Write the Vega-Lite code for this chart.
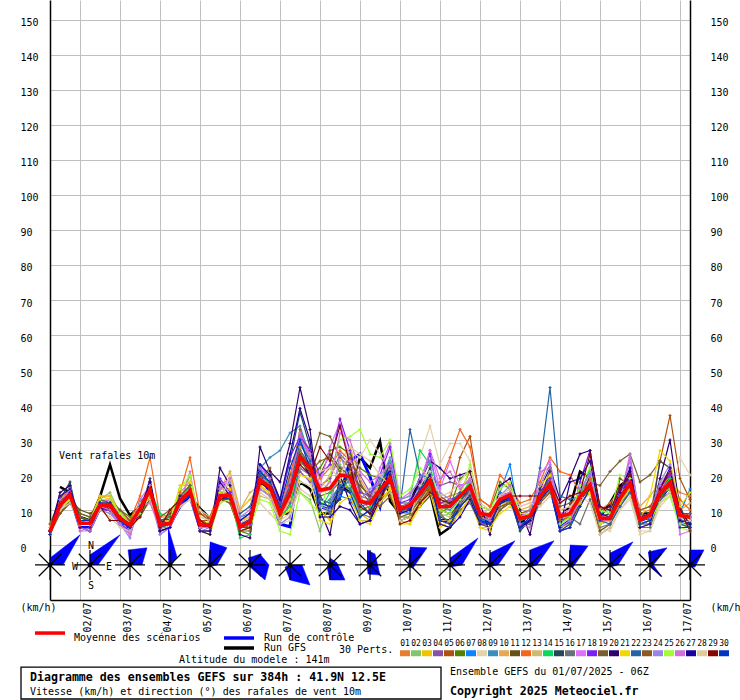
{"$schema":"https://vega.github.io/schema/vega-lite/v6.json","width":640,"height":600,"autosize":"none","padding":{"left":50,"top":0,"right":50,"bottom":100},"background":"white",
"config":{"font":"DejaVu Sans Mono","view":{"stroke":null},"axis":{"labelFontSize":10,"labelColor":"black","titleFontSize":10,"titleFontWeight":"normal","titleColor":"black"},"legend":{"labelFontSize":10,"labelColor":"black","titleFontWeight":"normal","titleFontSize":10,"titleColor":"black"}},
"title":{"text":"Diagramme des ensembles GEFS sur 384h : 41.9N 12.5E","subtitle":"Vitesse (km/h) et direction (°) des rafales de vent 10m","orient":"bottom","anchor":"start","frame":"group","dx":-20,"offset":-28,"font":"DejaVu Sans Mono","fontSize":11.6,"fontWeight":"bold","color":"black","subtitleFont":"DejaVu Sans Mono","subtitleFontSize":10,"subtitleColor":"black","subtitlePadding":4},
"data":{"values":[
{"t":0,"01":4,"02":5,"03":6,"04":4,"05":5,"06":4,"07":4,"08":5,"09":3,"10":5,"11":4,"12":4,"13":5,"14":4,"15":3,"16":4,"17":4,"18":3,"19":6,"20":4,"21":5,"22":4,"23":3,"24":4,"25":5,"26":3,"27":4,"28":5,"29":4,"30":3,"mean":3.8,"ctrl":4},
{"t":6,"01":12,"02":11,"03":13,"04":10,"05":12,"06":9,"07":11,"08":10,"09":13,"10":12,"11":9,"12":14,"13":10,"14":12,"15":13,"16":11,"17":12,"18":10,"19":13,"20":15,"21":11,"22":12,"23":9,"24":11,"25":10,"26":13,"27":14,"28":10,"29":11,"30":12,"mean":11.4,"ctrl":11},
{"t":12,"01":14,"02":13,"03":16,"04":15,"05":14,"06":12,"07":15,"08":13,"09":12,"10":16,"11":13,"12":15,"13":14,"14":13,"15":18,"16":17,"17":16,"18":15,"19":14,"20":17,"21":13,"22":14,"23":12,"24":16,"25":13,"26":15,"27":16,"28":12,"29":14,"30":15,"mean":14.3,"ctrl":14},
{"t":18,"01":6,"02":5,"03":7,"04":5,"05":6,"06":9,"07":5,"08":7,"09":6,"10":5,"11":10,"12":7,"13":6,"14":8,"15":5,"16":6,"17":4,"18":5,"19":9,"20":5,"21":7,"22":6,"23":8,"24":5,"25":6,"26":4,"27":7,"28":6,"29":5,"30":7,"mean":6.2,"ctrl":5},
{"t":24,"01":6,"02":5,"03":7,"04":4,"05":6,"06":8,"07":5,"08":7,"09":6,"10":5,"11":9,"12":6,"13":6,"14":7,"15":5,"16":6,"17":4,"18":5,"19":8,"20":4,"21":7,"22":6,"23":7,"24":4,"25":6,"26":5,"27":7,"28":6,"29":5,"30":7,"mean":6.2,"ctrl":5},
{"t":30,"01":12,"02":13,"03":14,"04":10,"05":11,"06":12,"07":11,"08":10,"09":12,"10":13,"11":11,"12":14,"13":10,"14":12,"15":13,"16":11,"17":12,"18":10,"19":13,"20":10,"21":14,"22":11,"23":12,"24":10,"25":13,"26":11,"27":12,"28":10,"29":11,"30":12,"mean":11.4,"ctrl":11},
{"t":36,"01":12,"02":15,"03":13,"04":10,"05":12,"06":13,"07":11,"08":9,"09":11,"10":13,"11":10,"12":14,"13":9,"14":12,"15":12,"16":11,"17":13,"18":10,"19":12,"20":11,"21":14,"22":11,"23":10,"24":9,"25":13,"26":10,"27":12,"28":8,"29":7,"30":11,"mean":11.4,"ctrl":10},
{"t":42,"01":8,"02":9,"03":7,"04":6,"05":8,"06":10,"07":7,"08":6,"09":7,"10":9,"11":8,"12":8,"13":6,"14":8,"15":9,"16":7,"17":8,"18":6,"19":10,"20":7,"21":9,"22":8,"23":7,"24":6,"25":9,"26":6,"27":8,"28":5,"29":7,"30":7,"mean":7.6,"ctrl":6},
{"t":48,"01":5,"02":7,"03":5,"04":4,"05":6,"06":8,"07":5,"08":4,"09":5,"10":7,"11":6,"12":7,"13":4,"14":5,"15":6,"16":5,"17":3,"18":4,"19":7,"20":5,"21":6,"22":6,"23":5,"24":2,"25":6,"26":3,"27":6,"28":4,"29":5,"30":5,"mean":5.7,"ctrl":5},
{"t":54,"01":11,"02":8,"03":10,"04":12,"05":11,"06":9,"07":10,"08":9,"09":10,"10":12,"11":8,"12":14,"13":11,"14":10,"15":9,"16":11,"17":13,"18":12,"19":10,"20":9,"21":11,"22":10,"23":12,"24":13,"25":9,"26":11,"27":10,"28":12,"29":8,"30":11,"mean":10.4,"ctrl":10},
{"t":60,"01":18,"02":15,"03":16,"04":14,"05":17,"06":13,"07":16,"08":12,"09":17,"10":15,"11":13,"12":25,"13":14,"14":16,"15":19,"16":15,"17":17,"18":16,"19":15,"20":18,"21":14,"22":16,"23":13,"24":14,"25":15,"26":12,"27":18,"28":13,"29":16,"30":15,"mean":15.7,"ctrl":15},
{"t":66,"01":6,"02":5,"03":4,"04":5,"05":6,"06":7,"07":5,"08":4,"09":6,"10":7,"11":6,"12":8,"13":5,"14":9,"15":4,"16":5,"17":3,"18":5,"19":7,"20":4,"21":6,"22":5,"23":8,"24":3,"25":6,"26":5,"27":4,"28":6,"29":5,"30":7,"mean":5.7,"ctrl":5},
{"t":72,"01":7,"02":6,"03":5,"04":6,"05":7,"06":8,"07":5,"08":6,"09":7,"10":7,"11":9,"12":8,"13":6,"14":8,"15":5,"16":6,"17":5,"18":5,"19":8,"20":5,"21":7,"22":6,"23":10,"24":5,"25":7,"26":5,"27":5,"28":6,"29":10,"30":6,"mean":6.2,"ctrl":6},
{"t":78,"01":13,"02":12,"03":17,"04":13,"05":11,"06":14,"07":12,"08":11,"09":13,"10":15,"11":12,"12":15,"13":14,"14":13,"15":11,"16":13,"17":12,"18":11,"19":14,"20":12,"21":17,"22":12,"23":13,"24":11,"25":16,"26":12,"27":14,"28":11,"29":13,"30":12,"mean":12.4,"ctrl":11},
{"t":84,"01":16,"02":20,"03":17,"04":15,"05":16,"06":17,"07":15,"08":13,"09":16,"10":18,"11":14,"12":25,"13":15,"14":17,"15":15,"16":14,"17":21,"18":16,"19":17,"20":15,"21":18,"22":14,"23":16,"24":13,"25":20,"26":15,"27":14,"28":13,"29":15,"30":14,"mean":15.4,"ctrl":14},
{"t":90,"01":6,"02":5,"03":4,"04":5,"05":7,"06":6,"07":5,"08":10,"09":6,"10":8,"11":7,"12":9,"13":5,"14":6,"15":4,"16":4,"17":5,"18":5,"19":7,"20":4,"21":5,"22":6,"23":9,"24":4,"25":6,"26":5,"27":4,"28":8,"29":7,"30":6,"mean":5.7,"ctrl":5},
{"t":96,"01":6,"02":5,"03":3,"04":5,"05":7,"06":6,"07":6,"08":8,"09":6,"10":7,"11":6,"12":8,"13":5,"14":6,"15":4,"16":4,"17":5,"18":5,"19":6,"20":3,"21":7,"22":6,"23":7,"24":5,"25":6,"26":5,"27":4,"28":7,"29":5,"30":6,"mean":5.7,"ctrl":6},
{"t":102,"01":15,"02":12,"03":13,"04":14,"05":15,"06":13,"07":14,"08":12,"09":14,"10":16,"11":13,"12":16,"13":14,"14":15,"15":13,"16":14,"17":16,"18":19,"19":14,"20":22,"21":15,"22":14,"23":13,"24":16,"25":12,"26":17,"27":18,"28":12,"29":13,"30":14,"mean":14,"ctrl":13},
{"t":108,"01":15,"02":14,"03":20,"04":14,"05":16,"06":12,"07":15,"08":19,"09":13,"10":21,"11":13,"12":16,"13":18,"14":14,"15":15,"16":13,"17":19,"18":15,"19":14,"20":17,"21":16,"22":14,"23":12,"24":18,"25":13,"26":19,"27":14,"28":20,"29":14,"30":13,"mean":14.3,"ctrl":14},
{"t":114,"01":5,"02":6,"03":10,"04":7,"05":6,"06":4,"07":8,"08":9,"09":7,"10":10,"11":5,"12":5,"13":6,"14":2,"15":4,"16":5,"17":6,"18":5,"19":6,"20":3,"21":7,"22":9,"23":4,"24":6,"25":4,"26":8,"27":7,"28":6,"29":4,"30":6,"mean":5.2,"ctrl":5},
{"t":120,"01":7,"02":6,"03":13,"04":8,"05":7,"06":3,"07":9,"08":11,"09":9,"10":15,"11":5,"12":6,"13":7,"14":3,"15":5,"16":6,"17":8,"18":6,"19":5,"20":2,"21":8,"22":11,"23":4,"24":7,"25":5,"26":10,"27":9,"28":8,"29":5,"30":7,"mean":6.6,"ctrl":7},
{"t":126,"01":18,"02":22,"03":17,"04":16,"05":20,"06":19,"07":22,"08":12,"09":22,"10":17,"11":18,"12":19,"13":14,"14":21,"15":20,"16":18,"17":21,"18":23,"19":19,"20":28,"21":17,"22":20,"23":19,"24":16,"25":13,"26":22,"27":23,"28":15,"29":18,"30":21,"mean":18.5,"ctrl":20},
{"t":132,"01":17,"02":16,"03":15,"04":14,"05":18,"06":20,"07":16,"08":9,"09":25,"10":14,"11":16,"12":18,"13":13,"14":17,"15":20,"16":17,"17":16,"18":19,"19":17,"20":21,"21":15,"22":18,"23":22,"24":14,"25":12,"26":19,"27":20,"28":13,"29":16,"30":18,"mean":16.6,"ctrl":15},
{"t":138,"01":10,"02":9,"03":8,"04":7,"05":11,"06":12,"07":9,"08":6,"09":27,"10":8,"11":10,"12":11,"13":6,"14":8,"15":13,"16":10,"17":9,"18":12,"19":9,"20":18,"21":8,"22":10,"23":7,"24":6,"25":4,"26":11,"27":13,"28":7,"29":10,"30":11,"mean":9,"ctrl":6},
{"t":144,"01":16,"02":13,"03":11,"04":12,"05":17,"06":15,"07":14,"08":7,"09":32,"10":13,"11":17,"12":20,"13":8,"14":11,"15":24,"16":18,"17":14,"18":25,"19":14,"20":29,"21":10,"22":17,"23":20,"24":8,"25":3,"26":18,"27":26,"28":9,"29":15,"30":22,"mean":14.8,"ctrl":5.2},
{"t":150,"01":32,"02":15,"03":27,"04":21,"05":33,"06":22,"07":30,"08":18,"09":34,"10":28,"11":27,"12":31,"13":20,"14":24,"15":38,"16":27,"17":32,"18":31,"19":26,"20":45,"21":20,"22":29,"23":24,"24":22,"25":15,"26":31,"27":39,"28":16,"29":23,"30":30,"mean":25.2,"ctrl":26},
{"t":156,"01":27,"02":13,"03":22,"04":18,"05":25,"06":20,"07":24,"08":17,"09":25,"10":26,"11":23,"12":25,"13":19,"14":21,"15":28,"16":23,"17":26,"18":27,"19":23,"20":33,"21":19,"22":24,"23":21,"24":20,"25":12,"26":25,"27":30,"28":14,"29":20,"30":22,"mean":22,"ctrl":20},
{"t":162,"01":15,"02":4,"03":10,"04":17,"05":14,"06":22,"07":12,"08":18,"09":11,"10":16,"11":20,"12":19,"13":13,"14":10,"15":14,"16":12,"17":17,"18":20,"19":32,"20":10,"21":7,"22":13,"23":24,"24":11,"25":9,"26":15,"27":8,"28":21,"29":28,"30":12,"mean":15.7,"ctrl":11},
{"t":168,"01":16,"02":13,"03":7,"04":19,"05":15,"06":27,"07":11,"08":16,"09":13,"10":20,"11":26,"12":22,"13":12,"14":15,"15":10,"16":9,"17":28,"18":23,"19":31,"20":3,"21":6,"22":12,"23":25,"24":10,"25":20,"26":18,"27":8,"28":22,"29":24,"30":11,"mean":16.2,"ctrl":10},
{"t":174,"01":20,"02":23,"03":18,"04":26,"05":18,"06":28,"07":14,"08":20,"09":17,"10":24,"11":22,"12":27,"13":16,"14":19,"15":13,"16":15,"17":35,"18":36,"19":25,"20":20,"21":12,"22":17,"23":21,"24":26,"25":30,"26":32,"27":11,"28":19,"29":34,"30":16,"mean":20,"ctrl":14},
{"t":180,"01":21,"02":17,"03":16,"04":23,"05":19,"06":26,"07":13,"08":27,"09":18,"10":28,"11":20,"12":24,"13":15,"14":16,"15":22,"16":19,"17":24,"18":27,"19":22,"20":12,"21":14,"22":16,"23":25,"24":18,"25":31,"26":30,"27":10,"28":28,"29":23,"30":15,"mean":19.5,"ctrl":24},
{"t":186,"01":13,"02":11,"03":9,"04":20,"05":10,"06":22,"07":8,"08":25,"09":14,"10":19,"11":17,"12":14,"13":7,"14":10,"15":12,"16":9,"17":12,"18":15,"19":16,"20":6,"21":7,"22":11,"23":18,"24":13,"25":33,"26":21,"27":6,"28":26,"29":11,"30":8,"mean":12.4,"ctrl":26},
{"t":192,"01":12,"02":9,"03":7,"04":15,"05":11,"06":20,"07":10,"08":30,"09":13,"10":14,"11":14,"12":10,"13":7,"14":11,"15":9,"16":8,"17":13,"18":14,"19":12,"20":7,"21":6,"22":12,"23":13,"24":16,"25":26,"26":18,"27":7,"28":24,"29":9,"30":10,"mean":11.9,"ctrl":19.5},
{"t":198,"01":18,"02":15,"03":13,"04":18,"05":15,"06":19,"07":14,"08":26,"09":19,"10":17,"11":13,"12":15,"13":12,"14":17,"15":17,"16":14,"17":22,"18":20,"19":14,"20":13,"21":12,"22":15,"23":11,"24":18,"25":25,"26":20,"27":16,"28":20,"29":13,"30":15,"mean":15.7,"ctrl":11},
{"t":204,"01":20,"02":17,"03":16,"04":22,"05":17,"06":18,"07":19,"08":21,"09":20,"10":16,"11":15,"12":19,"13":15,"14":24,"15":23,"16":18,"17":29,"18":28,"19":17,"20":20,"21":16,"22":19,"23":14,"24":25,"25":30,"26":23,"27":21,"28":17,"29":19,"30":18,"mean":19,"ctrl":24},
{"t":210,"01":12,"02":9,"03":7,"04":11,"05":10,"06":8,"07":10,"08":13,"09":12,"10":9,"11":7,"12":11,"13":8,"14":13,"15":11,"16":9,"17":13,"18":12,"19":8,"20":10,"21":6,"22":11,"23":7,"24":13,"25":14,"26":10,"27":9,"28":7,"29":6,"30":10,"mean":10.2,"ctrl":11},
{"t":216,"01":12,"02":10,"03":6,"04":12,"05":10,"06":8,"07":9,"08":14,"09":12,"10":9,"11":8,"12":11,"13":9,"14":14,"15":10,"16":11,"17":15,"18":13,"19":9,"20":12,"21":6,"22":33,"23":8,"24":14,"25":16,"26":12,"27":10,"28":8,"29":7,"30":11,"mean":11.4,"ctrl":10},
{"t":222,"01":15,"02":17,"03":13,"04":16,"05":14,"06":12,"07":16,"08":25,"09":15,"10":13,"11":11,"12":15,"13":14,"14":27,"15":16,"16":14,"17":18,"18":17,"19":13,"20":18,"21":11,"22":20,"23":12,"24":19,"25":22,"26":16,"27":15,"28":17,"29":12,"30":16,"mean":14.7,"ctrl":14},
{"t":228,"01":19,"02":21,"03":17,"04":20,"05":18,"06":16,"07":19,"08":34,"09":21,"10":16,"11":14,"12":18,"13":17,"14":23,"15":22,"16":17,"17":27,"18":26,"19":17,"20":24,"21":15,"22":19,"23":16,"24":24,"25":19,"26":27,"27":20,"28":21,"29":15,"30":18,"mean":18.5,"ctrl":17},
{"t":234,"01":13,"02":8,"03":6,"04":17,"05":12,"06":9,"07":10,"08":23,"09":11,"10":7,"11":12,"12":18,"13":9,"14":10,"15":8,"16":9,"17":16,"18":12,"19":14,"20":22,"21":5,"22":11,"23":10,"24":15,"25":10,"26":19,"27":6,"28":14,"29":13,"30":7,"mean":10.9,"ctrl":7},
{"t":240,"01":14,"02":9,"03":5,"04":18,"05":13,"06":11,"07":9,"08":29,"09":10,"10":7,"11":12,"12":25,"13":8,"14":11,"15":7,"16":6,"17":24,"18":13,"19":12,"20":19,"21":7,"22":12,"23":9,"24":13,"25":9,"26":21,"27":5,"28":15,"29":12,"30":6,"mean":11.1,"ctrl":7},
{"t":246,"01":15,"02":13,"03":10,"04":17,"05":25,"06":19,"07":11,"08":29,"09":13,"10":9,"11":14,"12":33,"13":11,"14":14,"15":12,"16":10,"17":17,"18":14,"19":13,"20":20,"21":9,"22":15,"23":11,"24":12,"25":13,"26":16,"27":8,"28":18,"29":14,"30":11,"mean":14,"ctrl":13},
{"t":252,"01":21,"02":19,"03":13,"04":18,"05":31,"06":21,"07":15,"08":24,"09":16,"10":14,"11":17,"12":28,"13":15,"14":18,"15":17,"16":12,"17":18,"18":17,"19":15,"20":21,"21":14,"22":16,"23":14,"24":15,"25":23,"26":19,"27":13,"28":22,"29":17,"30":14,"mean":16.8,"ctrl":16},
{"t":258,"01":10,"02":9,"03":5,"04":9,"05":13,"06":11,"07":7,"08":10,"09":8,"10":6,"11":8,"12":13,"13":7,"14":8,"15":7,"16":6,"17":10,"18":9,"19":6,"20":12,"21":5,"22":8,"23":7,"24":9,"25":11,"26":8,"27":6,"28":12,"29":8,"30":7,"mean":9,"ctrl":7},
{"t":264,"01":9,"02":8,"03":4,"04":7,"05":11,"06":10,"07":7,"08":9,"09":7,"10":6,"11":9,"12":11,"13":6,"14":7,"15":6,"16":5,"17":8,"18":8,"19":5,"20":3,"21":5,"22":7,"23":8,"24":8,"25":10,"26":7,"27":6,"28":10,"29":9,"30":6,"mean":8.5,"ctrl":6},
{"t":270,"01":14,"02":13,"03":11,"04":12,"05":15,"06":18,"07":15,"08":13,"09":12,"10":11,"11":14,"12":20,"13":11,"14":13,"15":12,"16":10,"17":14,"18":13,"19":10,"20":17,"21":9,"22":12,"23":11,"24":14,"25":16,"26":13,"27":12,"28":14,"29":13,"30":12,"mean":13,"ctrl":12},
{"t":276,"01":15,"02":14,"03":13,"04":13,"05":14,"06":16,"07":23,"08":15,"09":14,"10":12,"11":15,"12":17,"13":12,"14":15,"15":14,"16":13,"17":15,"18":14,"19":12,"20":19,"21":11,"22":14,"23":12,"24":17,"25":18,"26":15,"27":14,"28":16,"29":14,"30":13,"mean":14.3,"ctrl":14},
{"t":282,"01":9,"02":7,"03":5,"04":8,"05":9,"06":8,"07":6,"08":11,"09":7,"10":10,"11":8,"12":12,"13":9,"14":6,"15":4,"16":5,"17":8,"18":6,"19":7,"20":10,"21":8,"22":5,"23":7,"24":8,"25":9,"26":6,"27":5,"28":11,"29":14,"30":5,"mean":7.6,"ctrl":5},
{"t":288,"01":10,"02":8,"03":7,"04":9,"05":10,"06":8,"07":7,"08":12,"09":8,"10":11,"11":9,"12":13,"13":8,"14":7,"15":7,"16":6,"17":9,"18":7,"19":9,"20":3,"21":9,"22":7,"23":8,"24":10,"25":9,"26":5,"27":7,"28":12,"29":14,"30":8,"mean":8.3,"ctrl":7},
{"t":294,"01":14,"02":15,"03":13,"04":14,"05":15,"06":14,"07":13,"08":13,"09":14,"10":16,"11":13,"12":18,"13":12,"14":15,"15":13,"16":12,"17":20,"18":15,"19":13,"20":16,"21":17,"22":22,"23":12,"24":17,"25":14,"26":21,"27":13,"28":11,"29":14,"30":13,"mean":13.8,"ctrl":13},
{"t":300,"01":18,"02":17,"03":18,"04":19,"05":17,"06":19,"07":17,"08":16,"09":18,"10":19,"11":21,"12":25,"13":16,"14":18,"15":21,"16":17,"17":24,"18":19,"19":15,"20":22,"21":20,"22":45,"23":15,"24":23,"25":18,"26":22,"27":17,"28":14,"29":18,"30":16,"mean":17.4,"ctrl":17},
{"t":306,"01":10,"02":8,"03":5,"04":7,"05":9,"06":7,"07":6,"08":9,"09":8,"10":7,"11":8,"12":21,"13":8,"14":5,"15":4,"16":6,"17":9,"18":4,"19":11,"20":13,"21":8,"22":14,"23":7,"24":9,"25":6,"26":5,"27":5,"28":10,"29":12,"30":4,"mean":8.1,"ctrl":5},
{"t":312,"01":11,"02":9,"03":6,"04":8,"05":10,"06":8,"07":9,"08":10,"09":9,"10":8,"11":9,"12":20,"13":8,"14":7,"15":6,"16":8,"17":10,"18":5,"19":12,"20":19,"21":9,"22":13,"23":8,"24":9,"25":8,"26":7,"27":18,"28":11,"29":14,"30":5,"mean":9,"ctrl":7},
{"t":318,"01":15,"02":14,"03":12,"04":15,"05":14,"06":13,"07":16,"08":15,"09":13,"10":14,"11":13,"12":15,"13":12,"14":14,"15":12,"16":6,"17":16,"18":18,"19":14,"20":26,"21":12,"22":14,"23":11,"24":15,"25":17,"26":13,"27":19,"28":14,"29":15,"30":11,"mean":13.8,"ctrl":13},
{"t":324,"01":18,"02":17,"03":15,"04":19,"05":17,"06":16,"07":20,"08":14,"09":17,"10":18,"11":16,"12":19,"13":15,"14":22,"15":20,"16":13,"17":20,"18":27,"19":18,"20":27,"21":15,"22":17,"23":16,"24":21,"25":22,"26":18,"27":24,"28":12,"29":26,"30":16,"mean":17.1,"ctrl":17},
{"t":330,"01":9,"02":7,"03":6,"04":8,"05":7,"06":6,"07":8,"08":5,"09":7,"10":8,"11":4,"12":10,"13":6,"14":9,"15":8,"16":5,"17":8,"18":11,"19":17,"20":10,"21":6,"22":7,"23":3,"24":9,"25":10,"26":7,"27":9,"28":3,"29":11,"30":7,"mean":7.6,"ctrl":7},
{"t":336,"01":11,"02":8,"03":7,"04":9,"05":8,"06":7,"07":9,"08":4,"09":8,"10":9,"11":6,"12":12,"13":7,"14":10,"15":9,"16":6,"17":8,"18":10,"19":21,"20":11,"21":7,"22":6,"23":5,"24":8,"25":9,"26":7,"27":8,"28":5,"29":10,"30":8,"mean":7.6,"ctrl":8},
{"t":342,"01":14,"02":13,"03":15,"04":15,"05":13,"06":12,"07":14,"08":10,"09":13,"10":14,"11":11,"12":16,"13":12,"14":14,"15":15,"16":12,"17":14,"18":15,"19":24,"20":16,"21":12,"22":11,"23":19,"24":14,"25":20,"26":13,"27":15,"28":10,"29":16,"30":14,"mean":13.3,"ctrl":14},
{"t":348,"01":18,"02":17,"03":17,"04":19,"05":16,"06":16,"07":18,"08":13,"09":17,"10":18,"11":15,"12":20,"13":16,"14":18,"15":20,"16":15,"17":24,"18":19,"19":26,"20":21,"21":16,"22":15,"23":17,"24":25,"25":19,"26":26,"27":22,"28":14,"29":20,"30":18,"mean":17.6,"ctrl":20},
{"t":354,"01":9,"02":6,"03":5,"04":8,"05":7,"06":6,"07":7,"08":3,"09":7,"10":11,"11":6,"12":10,"13":7,"14":8,"15":6,"16":5,"17":8,"18":7,"19":18,"20":6,"21":7,"22":9,"23":10,"24":8,"25":6,"26":7,"27":5,"28":4,"29":8,"30":6,"mean":7.1,"ctrl":7},
{"t":360,"01":10,"02":7,"03":6,"04":9,"05":8,"06":7,"07":8,"08":4,"09":8,"10":14,"11":7,"12":11,"13":8,"14":9,"15":6,"16":5,"17":9,"18":8,"19":20,"20":7,"21":14,"22":7,"23":11,"24":9,"25":7,"26":8,"27":6,"28":4,"29":9,"30":7,"mean":8.5,"ctrl":8},
{"t":366,"01":15,"02":14,"03":13,"04":16,"05":24,"06":14,"07":15,"08":11,"09":14,"10":18,"11":13,"12":16,"13":15,"14":15,"15":24,"16":13,"17":15,"18":17,"19":24,"20":19,"21":27,"22":14,"23":15,"24":18,"25":12,"26":17,"27":16,"28":12,"29":16,"30":14,"mean":14.7,"ctrl":13},
{"t":372,"01":18,"02":17,"03":17,"04":19,"05":37,"06":16,"07":18,"08":14,"09":18,"10":21,"11":17,"12":20,"13":16,"14":19,"15":22,"16":15,"17":22,"18":20,"19":22,"20":30,"21":24,"22":17,"23":18,"24":23,"25":14,"26":21,"27":22,"28":15,"29":21,"30":18,"mean":17.8,"ctrl":17},
{"t":378,"01":15,"02":7,"03":6,"04":8,"05":19,"06":6,"07":9,"08":25,"09":7,"10":10,"11":7,"12":13,"13":8,"14":6,"15":11,"16":7,"17":3,"18":9,"19":9,"20":10,"21":11,"22":6,"23":8,"24":9,"25":5,"26":8,"27":7,"28":6,"29":10,"30":5,"mean":8.5,"ctrl":7},
{"t":384,"01":14,"02":6,"03":5,"04":8,"05":13,"06":5,"07":16,"08":20,"09":6,"10":12,"11":7,"12":10,"13":8,"14":6,"15":5,"16":7,"17":4,"18":9,"19":8,"20":6,"21":15,"22":5,"23":9,"24":8,"25":4,"26":8,"27":6,"28":7,"29":4,"30":5,"mean":7.9,"ctrl":6}
]},
"encoding":{"x":{"field":"t","type":"quantitative","scale":{"domain":[0,384],"nice":false,"zero":false},"axis":{"values":[18,42,66,90,114,138,162,186,210,234,258,282,306,330,354,378],"labelExpr":"format((datum.value+6)/24+1,'02d')+'/07'","labelAngle":-90,"labelAlign":"right","labelBaseline":"middle","labelOffset":7,"labelPadding":2,"tickSize":0,"title":null,"grid":true,"gridColor":"#c0c0c0","gridWidth":1,"domainColor":"black","domainWidth":1.5}}},
"layer":[
{"mark":{"type":"line","strokeWidth":2.5},"encoding":{"y":{"field":"gfs","type":"quantitative","scale":{"domain":[-15.71,155.71],"nice":false,"zero":false},"axis":null},"color":{"datum":"Run GFS","scale":{"domain":["Run GFS"],"range":["black"]},"legend":{"orient":"none","legendX":172,"legendY":631,"title":null,"symbolType":"stroke","symbolSize":900,"symbolStrokeWidth":3.5,"labelOffset":8}}},
"data":{"values":[{"t":6,"gfs":16.6},{"t":12,"gfs":15},{"t":18,"gfs":8},{"t":24,"gfs":7},{"t":30,"gfs":13.8},{"t":36,"gfs":23},{"t":42,"gfs":13.3},{"t":48,"gfs":8.5},{"t":54,"gfs":11},{"t":60,"gfs":15},{"t":66,"gfs":7},{"t":72,"gfs":7},{"t":78,"gfs":11},{"t":84,"gfs":13.9},{"t":90,"gfs":10.5},{"t":96,"gfs":7.6},{"t":102,"gfs":14},{"t":108,"gfs":14},{"t":114,"gfs":6},{"t":120,"gfs":7},{"t":126,"gfs":18},{"t":132,"gfs":16},{"t":138,"gfs":9},{"t":144,"gfs":9},{"t":150,"gfs":18},{"t":156,"gfs":16},{"t":162,"gfs":9},{"t":168,"gfs":9},{"t":174,"gfs":17},{"t":180,"gfs":15},{"t":186,"gfs":25},{"t":192,"gfs":22},{"t":198,"gfs":29.6},{"t":204,"gfs":12.5},{"t":210,"gfs":9},{"t":216,"gfs":12},{"t":222,"gfs":19},{"t":228,"gfs":15},{"t":234,"gfs":3},{"t":240,"gfs":5},{"t":246,"gfs":11},{"t":252,"gfs":15},{"t":258,"gfs":8},{"t":264,"gfs":6},{"t":270,"gfs":12},{"t":276,"gfs":13},{"t":282,"gfs":6},{"t":288,"gfs":9},{"t":294,"gfs":15},{"t":300,"gfs":18},{"t":306,"gfs":8},{"t":312,"gfs":11},{"t":318,"gfs":21},{"t":324,"gfs":19},{"t":330,"gfs":8},{"t":336,"gfs":12},{"t":342,"gfs":17},{"t":348,"gfs":19},{"t":354,"gfs":9},{"t":360,"gfs":9},{"t":366,"gfs":15},{"t":372,"gfs":19},{"t":378,"gfs":8},{"t":384,"gfs":8}]}},
{"mark":{"type":"line","strokeWidth":3},"encoding":{"y":{"field":"ctrl","type":"quantitative","scale":{"domain":[-15.71,155.71],"nice":false,"zero":false},"axis":null},"color":{"datum":"Run de contrôle","scale":{"domain":["Run de contrôle"],"range":["#0000ff"]},"legend":{"orient":"none","legendX":172,"legendY":621,"title":null,"symbolType":"stroke","symbolSize":900,"symbolStrokeWidth":3.5,"labelOffset":8}}}},
{"transform":[{"fold":["01","02","03","04","05","06","07","08","09","10","11","12","13","14","15","16","17","18","19","20","21","22","23","24","25","26","27","28","29","30"],"as":["member","speed"]}],
"mark":{"type":"line","strokeWidth":1.2,"point":{"shape":"cross","size":9,"filled":true}},
"encoding":{"y":{"field":"speed","type":"quantitative","scale":{"domain":[-15.71,155.71],"nice":false,"zero":false},"axis":{"orient":"left","values":[0,10,20,30,40,50,60,70,80,90,100,110,120,130,140,150],"labelAlign":"left","labelPadding":30,"labelOffset":3,"tickSize":0,"grid":true,"gridColor":"#c0c0c0","gridWidth":1,"domainColor":"black","domainWidth":1.5,"title":"(km/h)","titleAngle":0,"titleAlign":"left","titleBaseline":"middle","titleX":-30,"titleY":607}},
"color":{"field":"member","type":"nominal","scale":{"domain":["01","02","03","04","05","06","07","08","09","10","11","12","13","14","15","16","17","18","19","20","21","22","23","24","25","26","27","28","29","30"],"range":["#e67e2e","#85c46a","#eec400","#8a50a8","#b0500f","#558000","#0a84ff","#e4d3a8","#3a8ebd","#e8a850","#65521a","#f7651a","#cdbb6e","#0bd95c","#25475a","#697276","#df70fb","#7a1ff5","#7a5e2e","#2e0070","#f0d800","#2464a4","#8c5a22","#9a85e8","#a0ff30","#d070d8","#1c009f","#dfcba0","#850505","#0033bf"]},"legend":{"orient":"none","legendX":289,"legendY":642.5,"direction":"horizontal","columns":30,"columnPadding":1,"title":"30 Perts.","titleOrient":"left","titlePadding":6,"symbolType":"M-1,.5H1V1.7H-1Z","symbolSize":100,"symbolStrokeWidth":0,"symbolOpacity":1,"labelAlign":"center","labelBaseline":"bottom","labelOffset":-5,"labelFontSize":8}}}},
{"mark":{"type":"line","strokeWidth":3.6},"encoding":{"y":{"field":"mean","type":"quantitative","scale":{"domain":[-15.71,155.71],"nice":false,"zero":false},"axis":{"orient":"right","values":[0,10,20,30,40,50,60,70,80,90,100,110,120,130,140,150],"labelAlign":"left","labelPadding":20,"labelOffset":3,"tickSize":0,"grid":false,"domainColor":"black","domainWidth":1.5,"title":"(km/h)","titleAngle":0,"titleAlign":"left","titleBaseline":"middle","titleX":20,"titleY":607}},"color":{"datum":"Moyenne des scénarios","scale":{"domain":["Moyenne des scénarios"],"range":["#ff0000"]},"legend":{"orient":"none","legendX":-17,"legendY":621,"title":null,"symbolType":"M-1,-.33L1,-.33","symbolSize":900,"symbolStrokeWidth":3.5,"labelOffset":7}}}},
{"data":{"values":[{"rose":0,"n":0,"t":0,"v":-5.7},{"rose":0,"n":1,"t":0,"v":-3.7},{"rose":0,"n":2,"t":18,"v":2.9},{"rose":0,"n":3,"t":7.8,"v":-5.7},{"rose":1,"n":0,"t":24,"v":-5.7},{"rose":1,"n":1,"t":24,"v":-2.8},{"rose":1,"n":2,"t":42,"v":2.9},{"rose":1,"n":3,"t":28.8,"v":-5.7},{"rose":2,"n":0,"t":48,"v":-5.7},{"rose":2,"n":1,"t":46.8,"v":-1.4},{"rose":2,"n":2,"t":58.2,"v":-0.8},{"rose":2,"n":3,"t":55.2,"v":-5.7},{"rose":3,"n":0,"t":70.8,"v":5.2},{"rose":3,"n":1,"t":76.2,"v":-3.4},{"rose":3,"n":2,"t":72,"v":-6.3},{"rose":3,"n":3,"t":71,"v":-5.7},{"rose":4,"n":0,"t":96,"v":0.9},{"rose":4,"n":1,"t":106.2,"v":-0.8},{"rose":4,"n":2,"t":100.2,"v":-5.7},{"rose":4,"n":3,"t":94.8,"v":-6.3},{"rose":5,"n":0,"t":118.8,"v":-3.7},{"rose":5,"n":1,"t":126,"v":-2.6},{"rose":5,"n":2,"t":131.4,"v":-5.7},{"rose":5,"n":3,"t":129,"v":-10},{"rose":5,"n":4,"t":120,"v":-6.3},{"rose":6,"n":0,"t":151.2,"v":-5.7},{"rose":6,"n":1,"t":156,"v":-11.4},{"rose":6,"n":2,"t":144,"v":-10},{"rose":6,"n":3,"t":141,"v":-6.3},{"rose":6,"n":4,"t":144,"v":-5.7},{"rose":7,"n":0,"t":168,"v":-3.7},{"rose":7,"n":1,"t":172.2,"v":-5.1},{"rose":7,"n":2,"t":177,"v":-10},{"rose":7,"n":3,"t":168,"v":-10},{"rose":7,"n":4,"t":166.2,"v":-6.3},{"rose":8,"n":0,"t":190.2,"v":-1.4},{"rose":8,"n":1,"t":195,"v":-2.6},{"rose":8,"n":2,"t":198,"v":-8.6},{"rose":8,"n":3,"t":190.8,"v":-8.3},{"rose":8,"n":4,"t":190.2,"v":-5.7},{"rose":9,"n":0,"t":216,"v":-0.6},{"rose":9,"n":1,"t":226.2,"v":-0.8},{"rose":9,"n":2,"t":217.8,"v":-6.6},{"rose":9,"n":3,"t":214.8,"v":-6.3},{"rose":10,"n":0,"t":240,"v":-3.7},{"rose":10,"n":1,"t":256.8,"v":2},{"rose":10,"n":2,"t":247.2,"v":-5.7},{"rose":10,"n":3,"t":240,"v":-6.3},{"rose":11,"n":0,"t":264,"v":-2.3},{"rose":11,"n":1,"t":279,"v":1.2},{"rose":11,"n":2,"t":268.8,"v":-5.7},{"rose":11,"n":3,"t":263,"v":-6.3},{"rose":12,"n":0,"t":288,"v":-1.4},{"rose":12,"n":1,"t":302.4,"v":1.2},{"rose":12,"n":2,"t":292.2,"v":-5.7},{"rose":12,"n":3,"t":288,"v":-6.3},{"rose":13,"n":0,"t":312,"v":0},{"rose":13,"n":1,"t":322.8,"v":-0.3},{"rose":13,"n":2,"t":313.8,"v":-6.3},{"rose":13,"n":3,"t":311,"v":-6.3},{"rose":14,"n":0,"t":336,"v":-2.3},{"rose":14,"n":1,"t":349.8,"v":0.9},{"rose":14,"n":2,"t":340.8,"v":-5.7},{"rose":14,"n":3,"t":336,"v":-6.3},{"rose":15,"n":0,"t":358.8,"v":-2},{"rose":15,"n":1,"t":370.2,"v":-0.8},{"rose":15,"n":2,"t":362,"v":-5.7},{"rose":15,"n":3,"t":367.2,"v":-9.1},{"rose":15,"n":4,"t":360,"v":-6.3},{"rose":16,"n":0,"t":384,"v":-1.4},{"rose":16,"n":1,"t":392.4,"v":-1.4},{"rose":16,"n":2,"t":387,"v":-6.3},{"rose":16,"n":3,"t":383,"v":-6.3}]},
"mark":{"type":"line","fill":"#0000ff","stroke":"#0000ff","strokeWidth":0.5},"encoding":{"y":{"field":"v","type":"quantitative","axis":null},"detail":{"field":"rose"},"order":{"field":"n"}}},
{"data":{"values":[{"t":0,"v":-5.7},{"t":24,"v":-5.7},{"t":48,"v":-5.7},{"t":72,"v":-5.7},{"t":96,"v":-5.7},{"t":120,"v":-5.7},{"t":144,"v":-5.7},{"t":168,"v":-5.7},{"t":192,"v":-5.7},{"t":216,"v":-5.7},{"t":240,"v":-5.7},{"t":264,"v":-5.7},{"t":288,"v":-5.7},{"t":312,"v":-5.7},{"t":336,"v":-5.7},{"t":360,"v":-5.7},{"t":384,"v":-5.7}]},
"mark":{"type":"point","shape":"M-1,0L1,0M0,-1L0,1M-.75,-.75L.75,.75M-.75,.75L.75,-.75M-.1,-.1L.1,-.1L.1,.1L-.1,.1Z","size":900,"stroke":"black","strokeWidth":1.2,"opacity":1,"fill":null},"encoding":{"y":{"field":"v","type":"quantitative","axis":null}}},
{"data":{"values":[{"label":"Vent rafales 10m","t":5.4,"v":25.4},{"label":"N","t":22.8,"v":-0.3},{"label":"S","t":22.8,"v":-11.7},{"label":"W","t":13.2,"v":-6.3},{"label":"E","t":33.6,"v":-6.3},{"label":"Altitude du modele : 141m","t":77.4,"v":-32.9},{"label":"Ensemble GEFS du 01/07/2025 - 06Z","t":240,"v":-36.3}]},
"mark":{"type":"text","align":"left","baseline":"middle","fontSize":10,"color":"black"},"encoding":{"y":{"field":"v","type":"quantitative","axis":null},"text":{"field":"label"}}},
{"data":{"values":[{"label":"Copyright 2025 Meteociel.fr","t":240,"v":-42}]},
"mark":{"type":"text","align":"left","baseline":"middle","fontSize":11.6,"fontWeight":"bold","color":"black"},"encoding":{"y":{"field":"v","type":"quantitative","axis":null},"text":{"field":"label"}}},
{"data":{"values":[{"t":-17.4,"t2":234.6,"v":-34.86,"v2":-44}]},"mark":{"type":"rect","fillOpacity":0,"stroke":"black","strokeWidth":1.3},"encoding":{"x":{"field":"t","type":"quantitative"},"x2":{"field":"t2"},"y":{"field":"v","type":"quantitative","axis":null},"y2":{"field":"v2"}}}
],
"resolve":{"scale":{"color":"independent"},"axis":{"y":"independent"}}}
